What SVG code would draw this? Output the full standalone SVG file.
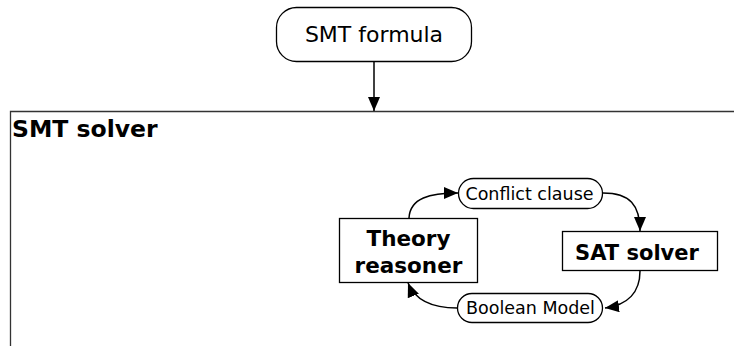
<svg xmlns="http://www.w3.org/2000/svg" width="734" height="346" viewBox="0 0 734 346">
<style>
text{font-family:"DejaVu Sans",sans-serif;fill:#000}
.box{fill:#fff;stroke:#000;stroke-width:1.3}
.edge{fill:none;stroke:#000;stroke-width:1.5}
.b{font-weight:bold}
</style>
<defs>
<marker id="ah" viewBox="0 0 14 12" refX="14" refY="6" markerWidth="14" markerHeight="12" markerUnits="userSpaceOnUse" orient="auto">
<path d="M0,0 L14,6 L0,12 z" fill="#000"/>
</marker>
</defs>
<rect width="734" height="346" fill="#fff"/>
<g id="smt-solver">
<path d="M734,111.5 H10.5 V346" fill="none" stroke="#333" stroke-width="1.3"/>
<text class="b" x="12" y="137" font-size="23.5">SMT solver</text>
</g>
<g id="connectors">
<path class="edge" d="M374,62 V111" marker-end="url(#ah)"/>
<path class="edge" d="M409,218 C410,198 430,193 458,193" marker-end="url(#ah)"/>
<path class="edge" d="M603,193 C630,193 640,205 640,231" marker-end="url(#ah)"/>
<path class="edge" d="M640,271 C640,292 628,305 605,308" marker-end="url(#ah)"/>
<path class="edge" d="M457,308 C432,308 415,300 408,283" marker-end="url(#ah)"/>
</g>
<g id="smt-formula">
<rect class="box" x="276.5" y="7.5" width="195" height="54" rx="20"/>
<text x="374" y="42" font-size="22" text-anchor="middle">SMT formula</text>
</g>
<g id="theory-reasoner">
<rect class="box" x="339.5" y="218.5" width="138" height="64"/>
<text class="b" x="408.5" y="246" font-size="21.5" text-anchor="middle">Theory</text>
<text class="b" x="408.5" y="273" font-size="21.5" text-anchor="middle">reasoner</text>
</g>
<g id="sat-solver">
<rect class="box" x="562.5" y="231.5" width="155" height="39"/>
<text class="b" x="637" y="260" font-size="21" text-anchor="middle">SAT solver</text>
</g>
<g id="conflict-clause">
<rect class="box" x="458.5" y="178.5" width="144" height="30" rx="15"/>
<text x="529.5" y="199.5" font-size="17.5" text-anchor="middle">Conflict clause</text>
</g>
<g id="boolean-model">
<rect class="box" x="457.5" y="293.5" width="145" height="29" rx="14.5"/>
<text x="530.5" y="313.5" font-size="17.5" text-anchor="middle">Boolean Model</text>
</g>
</svg>
